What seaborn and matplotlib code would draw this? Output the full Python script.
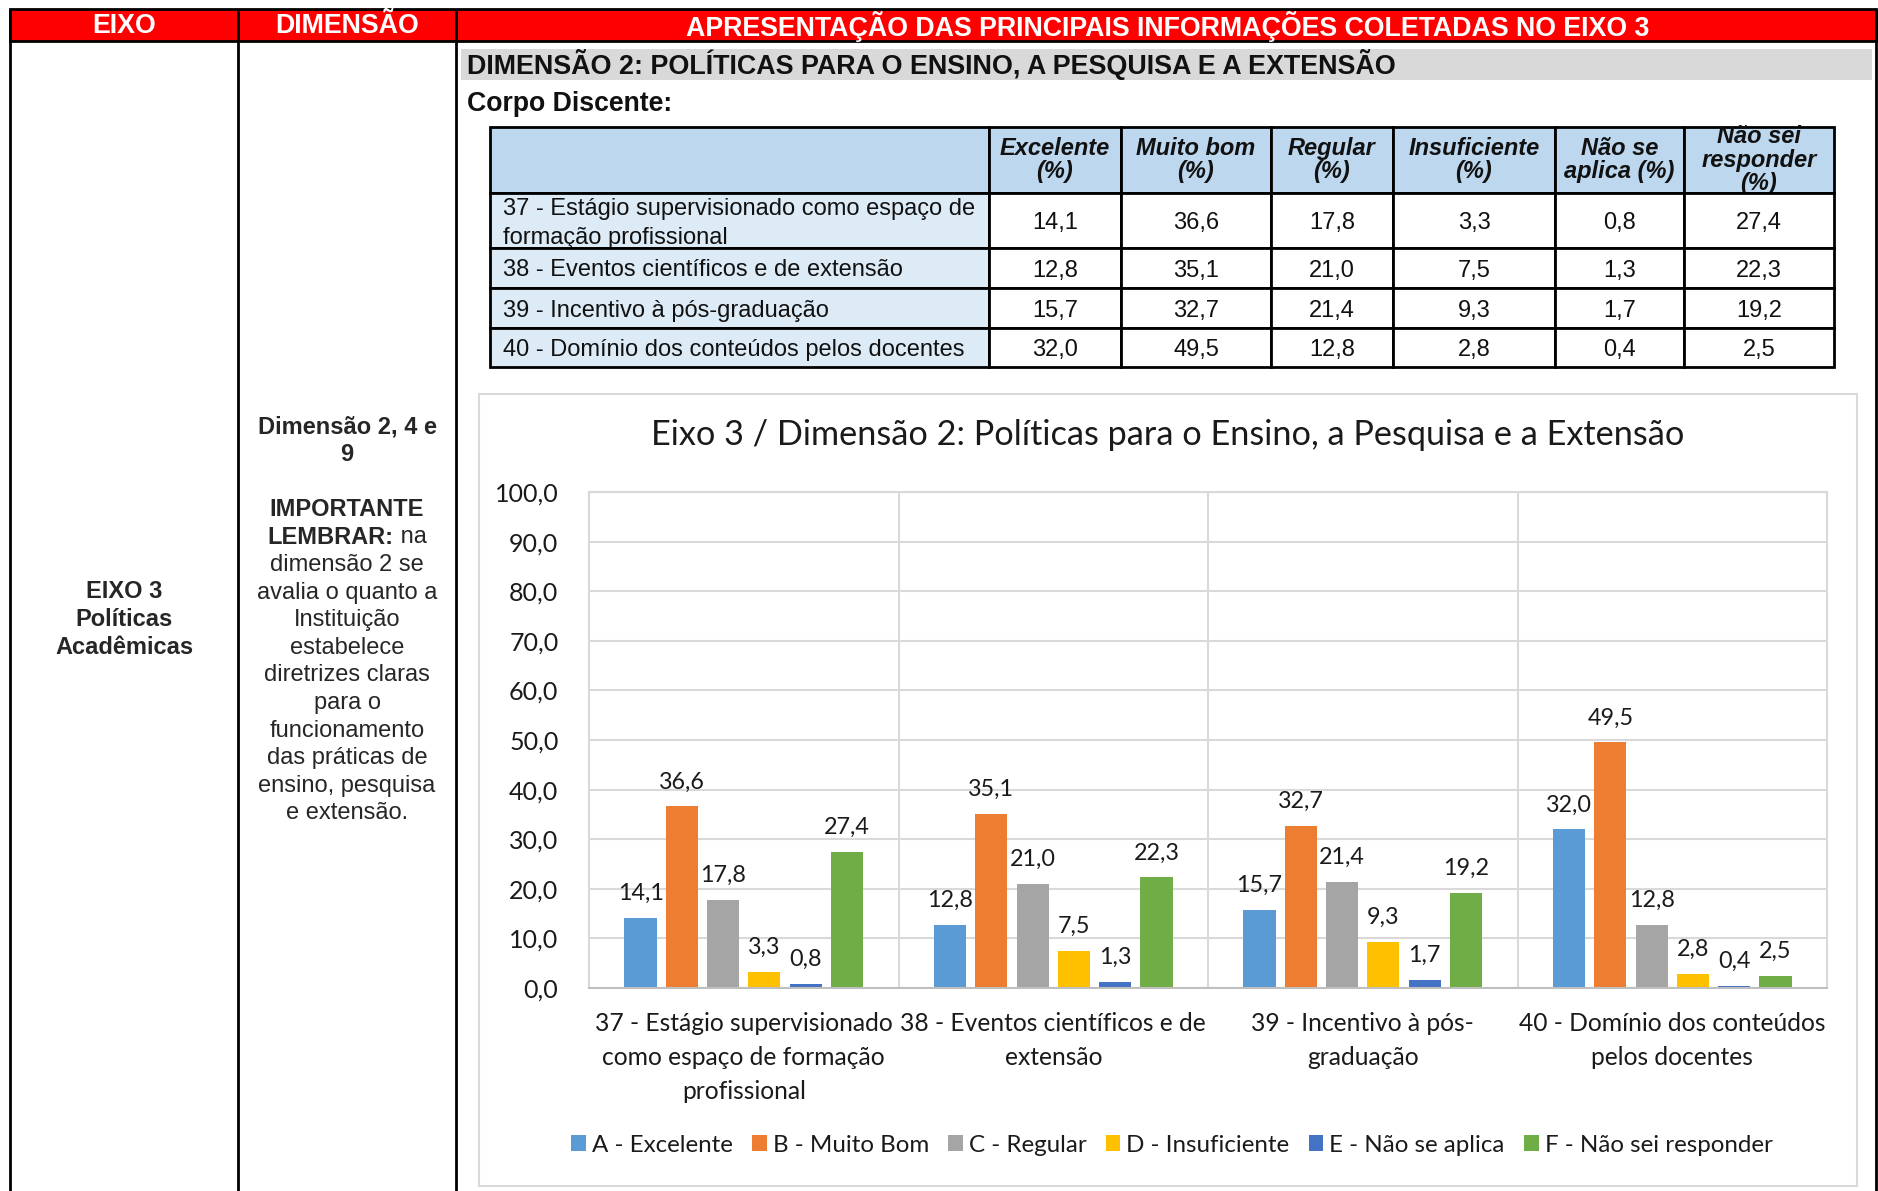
import matplotlib
matplotlib.use("Agg")
import numpy as np
import pandas as pd
import matplotlib.pyplot as plt
from matplotlib.patches import Rectangle
from matplotlib.transforms import Affine2D
import seaborn as sns

sns.set_style("white")
plt.rcParams["font.family"] = ["Liberation Sans", "DejaVu Sans"]

# ---- data -----------------------------------------------------------------
itens_tabela = [
    "37 - Estágio supervisionado como espaço de\nformação profissional",
    "38 - Eventos científicos e de extensão",
    "39 - Incentivo à pós-graduação",
    "40 - Domínio dos conteúdos pelos docentes",
]
itens_grafico = [
    "37 - Estágio supervisionado\ncomo espaço de formação\nprofissional",
    "38 - Eventos científicos e de\nextensão",
    "39 - Incentivo à pós-\ngraduação",
    "40 - Domínio dos conteúdos\npelos docentes",
]
cabecalho = ["", "Excelente\n(%)", "Muito bom\n(%)", "Regular\n(%)",
             "Insuficiente\n(%)", "Não se\naplica (%)", "Não sei\nresponder\n(%)"]
series = ["A - Excelente", "B - Muito Bom", "C - Regular", "D - Insuficiente",
          "E - Não se aplica", "F - Não sei responder"]

excelente = [14.1, 12.8, 15.7, 32.0]
muito_bom = [36.6, 35.1, 32.7, 49.5]
regular = [17.8, 21.0, 21.4, 12.8]
insuficiente = [3.3, 7.5, 9.3, 2.8]
nao_se_aplica = [0.8, 1.3, 1.7, 0.4]
nao_sei = [27.4, 22.3, 19.2, 2.5]
valores = [excelente, muito_bom, regular, insuficiente, nao_se_aplica, nao_sei]

cores = ["#5B9BD5", "#ED7D31", "#A5A5A5", "#FFC000", "#4472C4", "#70AD47"]
titulo = "Eixo 3 / Dimensão 2: Políticas para o Ensino, a Pesquisa e a Extensão"


def br(v):
    return f"{v:.1f}".replace(".", ",")


# ---- page layout (pixel coordinates) ---------------------------------------
W, H = 1878, 1191
fig = plt.figure(figsize=(W / 100, H / 100), dpi=100)
ax0 = fig.add_axes([0, 0, 1, 1], zorder=0)
ax0.set_xlim(0, W)
ax0.set_ylim(H, 0)
ax0.axis("off")

# red header band
ax0.add_patch(Rectangle((10, 9), 1866, 32, fc="#FF0000", ec="black", lw=2))
for x, txt in [(124, "EIXO"), (347, "DIMENSÃO"),
               (1168, "APRESENTAÇÃO DAS PRINCIPAIS INFORMAÇÕES COLETADAS NO EIXO 3")]:
    ax0.text(x, 26, txt, color="white", fontsize=19.3, fontweight="bold",
             ha="center", va="center")

# column rules
for x in [10, 238, 456, 1876]:
    ax0.plot([x, x], [9, H], color="black", lw=2, solid_capstyle="butt")

# grey section title
ax0.add_patch(Rectangle((461, 49), 1411, 31, fc="#D9D9D9", ec="none"))
ax0.text(467, 65, "DIMENSÃO 2: POLÍTICAS PARA O ENSINO, A PESQUISA E A EXTENSÃO",
         fontsize=19.4, fontweight="bold", ha="left", va="center", color="#111111")
ax0.text(467, 104, "Corpo Discente:", fontsize=19.2, fontweight="bold",
         ha="left", va="center", color="#111111")

# left columns text
for i, t in enumerate(["EIXO 3", "Políticas", "Acadêmicas"]):
    ax0.text(124, 592 + 27.6 * i, t, fontsize=17, fontweight="bold",
             ha="center", va="center")

dim_linhas = [("Dimensão 2, 4 e", ""), ("9", ""), ("", ""), ("IMPORTANTE", ""),
              ("LEMBRAR:", " na"), ("", "dimensão 2 se"), ("", "avalia o quanto a"),
              ("", "Instituição"), ("", "estabelece"), ("", "diretrizes claras"),
              ("", "para o"), ("", "funcionamento"), ("", "das práticas de"),
              ("", "ensino, pesquisa"), ("", "e extensão.")]
renderer = fig.canvas.get_renderer()
for i, (neg, norm) in enumerate(dim_linhas):
    y = 427 + 27.6 * i
    partes = []
    if neg:
        partes.append(ax0.text(0, y, neg, fontsize=17, fontweight="bold", va="center"))
    if norm:
        partes.append(ax0.text(0, y, norm, fontsize=17, va="center"))
    if not partes:
        continue
    larg = [p.get_window_extent(renderer).width for p in partes]
    x = 347 - sum(larg) / 2
    for p, w in zip(partes, larg):
        p.set_x(x)
        x += w

# ---- data table --------------------------------------------------------------
linhas = [[item] + [br(s[i]) for s in valores] for i, item in enumerate(itens_tabela)]
col_px = [499, 132, 150, 122, 162, 129, 150]
alt_px = [66, 55, 40, 40, 39]
tbl = ax0.table(cellText=linhas, colLabels=cabecalho,
                colWidths=[c / sum(col_px) for c in col_px], cellLoc="center",
                bbox=[490 / W, 1 - 367 / H, 1344 / W, 240 / H])
tbl.auto_set_font_size(False)
tbl.set_fontsize(17)
for (r, c), cell in tbl.get_celld().items():
    cell.set_height(alt_px[r])
    cell.set_edgecolor("black")
    cell.set_linewidth(2)
    txt = cell.get_text()
    if r == 0:
        cell.set_facecolor("#BDD7EE")
        txt.set_fontweight("bold")
        txt.set_fontstyle("italic")
        txt.set_linespacing(1.02)
    else:
        txt.set_va("center_baseline")
        if c == 0:
            cell.set_facecolor("#DDEBF7")
            txt.set_ha("left")
            cell.PAD = 0.026
            if "\n" in txt.get_text():
                txt.set_va("center")
                txt.set_linespacing(1.36)
                txt.set_transform(Affine2D().translate(0, -3))
        else:
            cell.set_facecolor("white")
    txt.set_color("#111111")

# ---- chart -------------------------------------------------------------------
ax0.add_patch(Rectangle((479, 394), 1378, 792, fc="white", ec="#D9D9D9", lw=1.5))
fig.text(1168 / W, 1 - 435 / H, titulo, ha="center", va="center",
         fontsize=24.7, family="Lato", color="#1a1a1a")

df = pd.DataFrame({
    "item": np.tile(itens_grafico, len(series)),
    "serie": np.repeat(series, len(itens_grafico)),
    "valor": np.concatenate(valores),
})

ax = fig.add_axes([589 / W, 1 - 988 / H, 1238 / W, 496 / H], zorder=2)
ax.set_facecolor("none")
sns.barplot(data=df, x="item", y="valor", hue="serie", palette=cores,
            width=0.8, gap=0.22, saturation=1, linewidth=0, ax=ax)

for cont, vals in zip(ax.containers, valores):
    ax.bar_label(cont, labels=[br(v) for v in vals], padding=10,
                 fontsize=16.8, family="Lato", color="#1a1a1a")

ax.set_ylim(0, 100)
ax.set_xlim(-0.5, 3.5)
ax.set_yticks(np.arange(0, 101, 10))
ax.set_yticklabels([br(v) for v in np.arange(0, 101, 10)])
ax.set_xticks(range(len(itens_grafico)))
ax.set_xticklabels(itens_grafico, linespacing=1.6)
ax.set_xticks(np.arange(-0.5, 3.6, 1), minor=True)
ax.grid(axis="y", which="major", color="#D9D9D9", lw=1.5)
ax.grid(axis="x", which="minor", color="#D9D9D9", lw=1.5)
ax.grid(axis="x", which="major", visible=False)
ax.set_axisbelow(True)
ax.tick_params(axis="both", which="both", length=0)
ax.tick_params(axis="y", pad=22)
ax.tick_params(axis="x", pad=17)
for lab in ax.get_yticklabels():
    lab.set_fontfamily("Lato")
    lab.set_fontsize(18)
    lab.set_color("#1a1a1a")
for lab in ax.get_xticklabels():
    lab.set_fontfamily("Lato")
    lab.set_fontsize(17.7)
    lab.set_color("#1a1a1a")
for side, sp in ax.spines.items():
    sp.set_color("#D9D9D9")
    sp.set_linewidth(1.5)
ax.spines["bottom"].set_color("#BFBFBF")
ax.set_xlabel("")
ax.set_ylabel("")

handles, labels = ax.get_legend_handles_labels()
ax.legend(handles, labels, loc="center", bbox_to_anchor=(1172 / W, 1 - 1145 / H),
          bbox_transform=fig.transFigure, ncol=6, frameon=False,
          handlelength=0.6, handleheight=0.6, handletextpad=0.25,
          columnspacing=0.8, prop={"family": "Lato", "size": 17.4})
for t in ax.get_legend().get_texts():
    t.set_color("#1a1a1a")

fig.savefig("out.png", dpi=100)
